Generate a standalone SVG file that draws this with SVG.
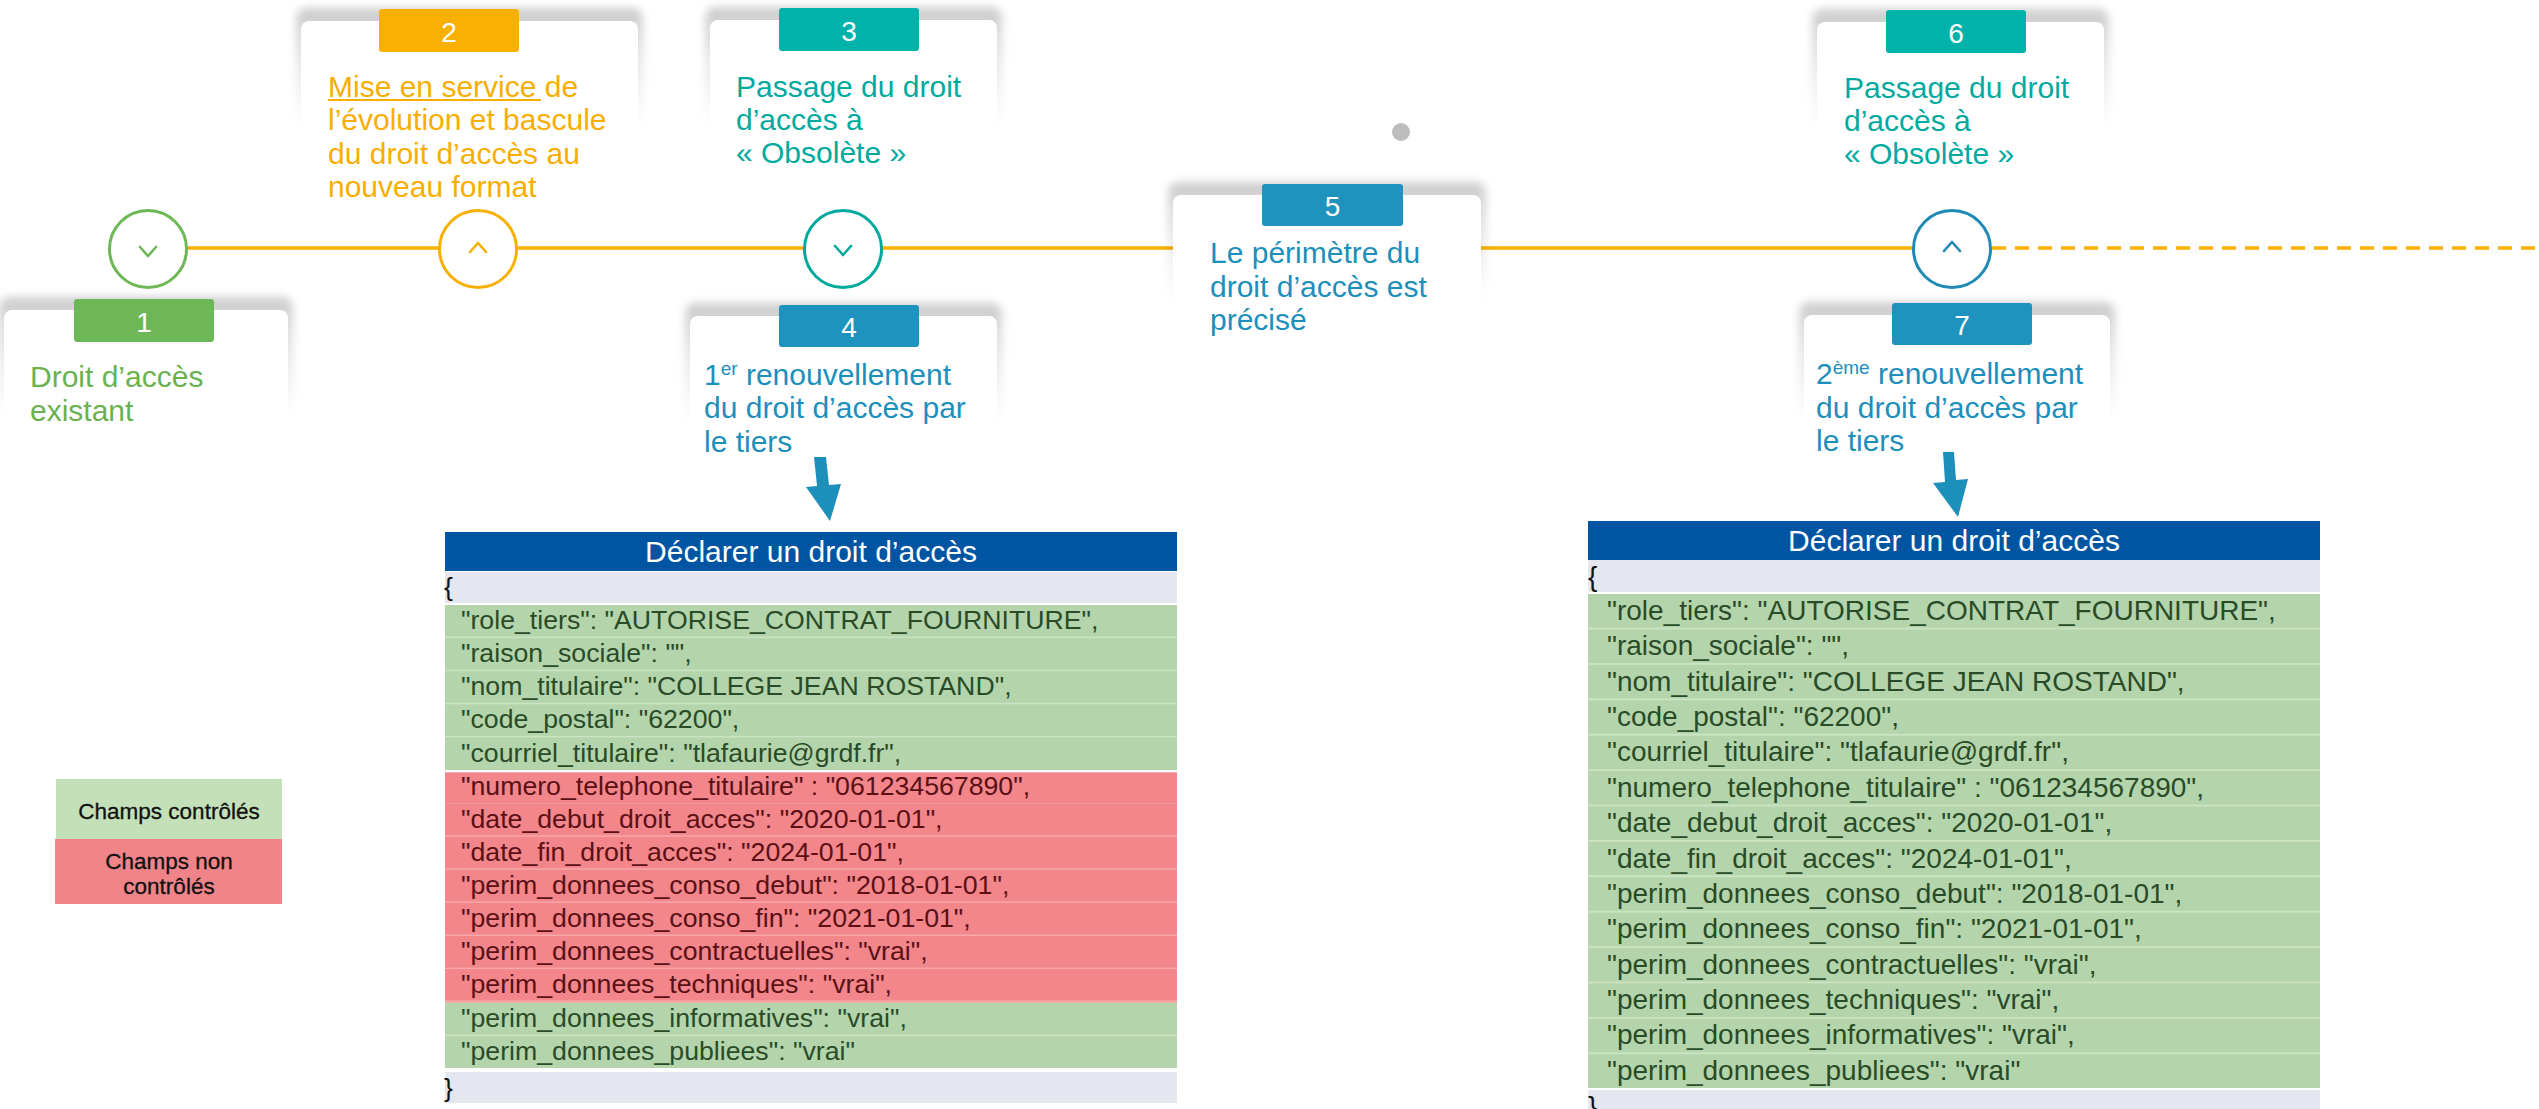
<svg xmlns="http://www.w3.org/2000/svg" width="2539" height="1109" viewBox="0 0 2539 1109">
<defs>
<linearGradient id="shg" x1="0" y1="0" x2="0" y2="1">
<stop offset="0" stop-color="#000" stop-opacity="0.2"/>
<stop offset="0.45" stop-color="#000" stop-opacity="0.09"/>
<stop offset="0.95" stop-color="#000" stop-opacity="0"/>
</linearGradient>
<filter id="blur" x="-20%" y="-20%" width="140%" height="140%"><feGaussianBlur stdDeviation="4"/></filter>
</defs>
<style>
text{font-family:'Liberation Sans',Arial,sans-serif}
.shadow{fill:url(#shg);filter:url(#blur)}
.card{fill:#fff}
.t{font-size:30px}
.green{fill:#6AB150}
.orange{fill:#F7AE00}
.teal{fill:#00AA9F}
.blue{fill:#1D8FBB}
.num{font-size:28px;fill:#fff;text-anchor:middle}
.ring{fill:#fff;stroke-width:3}
.chev{fill:none;stroke-width:2.6;stroke-linecap:round;stroke-linejoin:round}
.hdr{font-size:30px;fill:#fff;text-anchor:middle}
.c1{font-size:26.7px}
.c2{font-size:28px}
.cg{fill:#2A4B28}
.cr{fill:#5A1015}
.cb{fill:#111}
.gbg{fill:#CCE4C5}
.grow{fill:#B4D5AB}
.rbg{fill:#F6A8AB}
.rrow{fill:#F2868A}
.gray{fill:#E4E7EF}
.leg{font-size:22.5px;fill:#111;text-anchor:middle;stroke:#111;stroke-width:0.3}
</style>

<g id="connectors">
<line x1="148" y1="248" x2="1952" y2="248" stroke="#F9B000" stroke-width="3.5"/>
<line x1="1992" y1="248" x2="2539" y2="248" stroke="#F9B000" stroke-width="3.5" stroke-dasharray="14 9"/>
<polygon points="814,457 826,457 829,485 841,484 830,521 806,487 817,486" fill="#1D8FBB"/>
<polygon points="1943,452 1954,452 1956,480 1968,479 1958,517 1933,483 1945,482" fill="#1D8FBB"/>
</g>

<g id="card-1">
<rect class="shadow" x="-1" y="297" width="294" height="125" rx="10"/>
<rect class="card" x="4" y="310" width="284" height="140" rx="8"/>
<rect x="74" y="299" width="140" height="43" rx="3" fill="#6EB757"/>
<text class="num" x="144" y="332">1</text>
<text class="t green" x="30" y="387">Droit d’accès</text>
<text class="t green" x="30" y="421">existant</text>
</g>

<g id="card-2">
<rect class="shadow" x="296" y="8" width="347" height="125" rx="10"/>
<rect class="card" x="301" y="21" width="337" height="140" rx="8"/>
<rect x="379" y="9" width="140" height="43" rx="3" fill="#F9B000"/>
<text class="num" x="449" y="42">2</text>
<text class="t orange" x="328" y="97">Mise en service de</text>
<line x1="328" y1="100" x2="541" y2="100" stroke="#F7AE00" stroke-width="1.8"/>
<text class="t orange" x="328" y="130">l’évolution et bascule</text>
<text class="t orange" x="328" y="164">du droit d’accès au</text>
<text class="t orange" x="328" y="197">nouveau format</text>
</g>

<g id="card-3">
<rect class="shadow" x="705" y="7" width="297" height="125" rx="10"/>
<rect class="card" x="710" y="20" width="287" height="140" rx="8"/>
<rect x="779" y="8" width="140" height="43" rx="3" fill="#00B3AA"/>
<text class="num" x="849" y="41">3</text>
<text class="t teal" x="736" y="97">Passage du droit</text>
<text class="t teal" x="736" y="130">d’accès à</text>
<text class="t teal" x="736" y="163">« Obsolète »</text>
</g>

<g id="card-4">
<rect class="shadow" x="685" y="303" width="317" height="125" rx="10"/>
<rect class="card" x="690" y="316" width="307" height="135" rx="8"/>
<rect x="779" y="305" width="140" height="42" rx="3" fill="#1E93BE"/>
<text class="num" x="849" y="337">4</text>
<text class="t blue" x="704" y="385">1<tspan font-size="19" dy="-10">er</tspan><tspan dy="10"> renouvellement</tspan></text>
<text class="t blue" x="704" y="418">du droit d’accès par</text>
<text class="t blue" x="704" y="452">le tiers</text>
</g>

<g id="card-5">
<rect class="shadow" x="1168" y="182" width="318" height="125" rx="10"/>
<rect class="card" x="1173" y="195" width="308" height="150" rx="8"/>
<rect x="1262" y="184" width="141" height="42" rx="3" fill="#1E93BE"/>
<text class="num" x="1332.5" y="216">5</text>
<text class="t blue" x="1210" y="263">Le périmètre du</text>
<text class="t blue" x="1210" y="297">droit d’accès est</text>
<text class="t blue" x="1210" y="330">précisé</text>
</g>

<g id="dot">
<circle cx="1401" cy="132" r="9" fill="#BDBDBD"/>
</g>

<g id="card-6">
<rect class="shadow" x="1812" y="9" width="297" height="125" rx="10"/>
<rect class="card" x="1817" y="22" width="287" height="140" rx="8"/>
<rect x="1886" y="10" width="140" height="43" rx="3" fill="#00B3AA"/>
<text class="num" x="1956" y="43">6</text>
<text class="t teal" x="1844" y="98">Passage du droit</text>
<text class="t teal" x="1844" y="131">d’accès à</text>
<text class="t teal" x="1844" y="164">« Obsolète »</text>
</g>

<g id="card-7">
<rect class="shadow" x="1799" y="302" width="316" height="125" rx="10"/>
<rect class="card" x="1804" y="315" width="306" height="134" rx="8"/>
<rect x="1892" y="303" width="140" height="42" rx="3" fill="#1E93BE"/>
<text class="num" x="1962" y="335">7</text>
<text class="t blue" x="1816" y="384">2<tspan font-size="19" dy="-10">ème</tspan><tspan dy="10"> renouvellement</tspan></text>
<text class="t blue" x="1816" y="418">du droit d’accès par</text>
<text class="t blue" x="1816" y="451">le tiers</text>
</g>

<g id="milestone-1">
<circle class="ring" cx="148" cy="249" r="38.5" stroke="#6EB757"/>
<polyline class="chev" points="140,247 148,256 156,247" stroke="#6EB757"/>
</g>
<g id="milestone-2">
<circle class="ring" cx="478" cy="249" r="38.5" stroke="#F9B000"/>
<polyline class="chev" points="470,252 478,243 486,252" stroke="#F9B000"/>
</g>
<g id="milestone-3">
<circle class="ring" cx="843" cy="249" r="38.5" stroke="#00A99D"/>
<polyline class="chev" points="835,246 843,255 851,246" stroke="#00A99D"/>
</g>
<g id="milestone-6">
<circle class="ring" cx="1952" cy="249" r="38.5" stroke="#1E8AB5"/>
<polyline class="chev" points="1944,251 1952,242 1960,251" stroke="#1E8AB5"/>
</g>

<g id="table-1">
<rect x="445" y="532" width="732" height="39" fill="#0055A2"/>
<text class="hdr" x="811" y="562">Déclarer un droit d’accès</text>
<rect class="gray" x="445" y="572" width="732" height="31"/>
<text class="c1 cb" x="444" y="596">{</text>
<rect class="gbg" x="445" y="605" width="732" height="165"/>
<rect class="rbg" x="445" y="772.5" width="732" height="231"/>
<rect class="gbg" x="445" y="1003" width="732" height="65"/>
<rect class="grow" x="445" y="605" width="732" height="31.6"/>
<rect class="grow" x="445" y="638.1" width="732" height="31.6"/>
<rect class="grow" x="445" y="671.2" width="732" height="31.6"/>
<rect class="grow" x="445" y="704.3" width="732" height="31.6"/>
<rect class="grow" x="445" y="737.4" width="732" height="32.6"/>
<rect class="rrow" x="445" y="772.5" width="732" height="30.6"/>
<rect class="rrow" x="445" y="803.6" width="732" height="31.6"/>
<rect class="rrow" x="445" y="836.7" width="732" height="31.6"/>
<rect class="rrow" x="445" y="869.8" width="732" height="31.6"/>
<rect class="rrow" x="445" y="902.9" width="732" height="31.6"/>
<rect class="rrow" x="445" y="936" width="732" height="31.6"/>
<rect class="rrow" x="445" y="969.1" width="732" height="31.4"/>
<rect class="grow" x="445" y="1003" width="732" height="31.6"/>
<rect class="grow" x="445" y="1036.4" width="732" height="31.6"/>
<rect class="gray" x="445" y="1072" width="732" height="31"/>
<text class="c1 cb" x="444" y="1097">}</text>
<text class="c1 cg" x="461" y="629">"role_tiers": "AUTORISE_CONTRAT_FOURNITURE",</text>
<text class="c1 cg" x="461" y="662">"raison_sociale": "",</text>
<text class="c1 cg" x="461" y="695">"nom_titulaire": "COLLEGE JEAN ROSTAND",</text>
<text class="c1 cg" x="461" y="728">"code_postal": "62200",</text>
<text class="c1 cg" x="461" y="762">"courriel_titulaire": "tlafaurie@grdf.fr",</text>
<text class="c1 cr" x="461" y="795">"numero_telephone_titulaire" : "061234567890",</text>
<text class="c1 cr" x="461" y="828">"date_debut_droit_acces": "2020-01-01",</text>
<text class="c1 cr" x="461" y="861">"date_fin_droit_acces": "2024-01-01",</text>
<text class="c1 cr" x="461" y="894">"perim_donnees_conso_debut": "2018-01-01",</text>
<text class="c1 cr" x="461" y="927">"perim_donnees_conso_fin": "2021-01-01",</text>
<text class="c1 cr" x="461" y="960">"perim_donnees_contractuelles": "vrai",</text>
<text class="c1 cr" x="461" y="993">"perim_donnees_techniques": "vrai",</text>
<text class="c1 cg" x="461" y="1027">"perim_donnees_informatives": "vrai",</text>
<text class="c1 cg" x="461" y="1060">"perim_donnees_publiees": "vrai"</text>
</g>

<g id="table-2">
<rect x="1588" y="521" width="732" height="39" fill="#0055A2"/>
<text class="hdr" x="1954" y="551">Déclarer un droit d’accès</text>
<rect class="gray" x="1588" y="560" width="732" height="32"/>
<text class="c2 cb" x="1588" y="586">{</text>
<rect class="gbg" x="1588" y="594" width="732" height="494"/>
<rect class="grow" x="1588" y="594" width="732" height="33.6"/>
<rect class="grow" x="1588" y="629.4" width="732" height="33.6"/>
<rect class="grow" x="1588" y="664.8" width="732" height="33.6"/>
<rect class="grow" x="1588" y="700.2" width="732" height="33.6"/>
<rect class="grow" x="1588" y="735.6" width="732" height="33.6"/>
<rect class="grow" x="1588" y="771" width="732" height="33.6"/>
<rect class="grow" x="1588" y="806.4" width="732" height="33.6"/>
<rect class="grow" x="1588" y="841.8" width="732" height="33.6"/>
<rect class="grow" x="1588" y="877.2" width="732" height="33.6"/>
<rect class="grow" x="1588" y="912.6" width="732" height="33.6"/>
<rect class="grow" x="1588" y="948" width="732" height="33.6"/>
<rect class="grow" x="1588" y="983.4" width="732" height="33.6"/>
<rect class="grow" x="1588" y="1018.8" width="732" height="33.6"/>
<rect class="grow" x="1588" y="1054.2" width="732" height="33.8"/>
<rect class="gray" x="1588" y="1090" width="732" height="19"/>
<text class="c2 cb" x="1588" y="1116">}</text>
<text class="c2 cg" x="1607" y="620">"role_tiers": "AUTORISE_CONTRAT_FOURNITURE",</text>
<text class="c2 cg" x="1607" y="655">"raison_sociale": "",</text>
<text class="c2 cg" x="1607" y="691">"nom_titulaire": "COLLEGE JEAN ROSTAND",</text>
<text class="c2 cg" x="1607" y="726">"code_postal": "62200",</text>
<text class="c2 cg" x="1607" y="761">"courriel_titulaire": "tlafaurie@grdf.fr",</text>
<text class="c2 cg" x="1607" y="797">"numero_telephone_titulaire" : "061234567890",</text>
<text class="c2 cg" x="1607" y="832">"date_debut_droit_acces": "2020-01-01",</text>
<text class="c2 cg" x="1607" y="868">"date_fin_droit_acces": "2024-01-01",</text>
<text class="c2 cg" x="1607" y="903">"perim_donnees_conso_debut": "2018-01-01",</text>
<text class="c2 cg" x="1607" y="938">"perim_donnees_conso_fin": "2021-01-01",</text>
<text class="c2 cg" x="1607" y="974">"perim_donnees_contractuelles": "vrai",</text>
<text class="c2 cg" x="1607" y="1009">"perim_donnees_techniques": "vrai",</text>
<text class="c2 cg" x="1607" y="1044">"perim_donnees_informatives": "vrai",</text>
<text class="c2 cg" x="1607" y="1080">"perim_donnees_publiees": "vrai"</text>
</g>

<g id="legend">
<rect x="56" y="779" width="226" height="60" fill="#C3E0B9"/>
<rect x="55" y="839" width="227" height="65" fill="#F08488"/>
<text class="leg" x="169" y="819">Champs contrôlés</text>
<text class="leg" x="169" y="869">Champs non</text>
<text class="leg" x="169" y="894">contrôlés</text>
</g>
</svg>
